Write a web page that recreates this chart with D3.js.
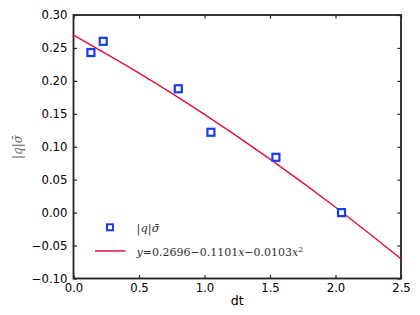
<!DOCTYPE html>
<html>
<head>
<meta charset="utf-8">
<script src="https://cdn.jsdelivr.net/npm/d3@7"></script>
<style>
  body { margin: 0; background: #fff; }
  text { font-family: "DejaVu Sans", sans-serif; }
</style>
</head>
<body>
<div id="chart"></div>
<script>
// measured points
var dtValues = [0.133, 0.227, 0.80, 1.049, 1.545, 2.046];
var qSigma = [0.243, 0.260, 0.188, 0.122, 0.084, 0.0];

// fitted curve
var fitX = [0.0, 0.5, 1.0, 1.5, 2.0, 2.5];
var fitY = [0.2696, 0.2119, 0.1492, 0.0813, 0.0082, -0.0700];

var xTicks = [0.0, 0.5, 1.0, 1.5, 2.0, 2.5];
var yTicks = [-0.10, -0.05, 0.00, 0.05, 0.10, 0.15, 0.20, 0.25, 0.30];

var width = 420, height = 315;
var margin = {left: 73.5, right: 19, top: 15, bottom: 36.5};

var blue = "#1a3cf0";
var red = "#e3123a";

var svg = d3.select("#chart")
  .append("svg")
    .attr("width", width)
    .attr("height", height);

var x = d3.scaleLinear().domain([0, 2.5]).range([margin.left, width - margin.right]);
var y = d3.scaleLinear().domain([-0.10, 0.30]).range([height - margin.bottom, margin.top]);

// axes, ticks point inward
var bottomAxis = d3.axisBottom(x).tickValues(xTicks).tickFormat(d3.format(".1f")).tickSizeInner(-3.5).tickSizeOuter(0).tickPadding(5);
var topAxis = d3.axisTop(x).tickValues(xTicks).tickFormat("").tickSizeInner(-3.5).tickSizeOuter(0);
var leftAxis = d3.axisLeft(y).tickValues(yTicks).tickFormat(function(d){ return d3.format(".2f")(d).replace("-", "\u2212"); }).tickSizeInner(-3.5).tickSizeOuter(0).tickPadding(6);
var rightAxis = d3.axisRight(y).tickValues(yTicks).tickFormat("").tickSizeInner(-3.5).tickSizeOuter(0);

function styleAxis(g) {
  g.select(".domain").remove();
  g.selectAll(".tick line").attr("stroke", "#222").attr("stroke-width", 1.2);
  g.selectAll(".tick text").attr("fill", "#000").style("font-size", "11.7px").style("font-family", "DejaVu Sans");
}

svg.append("g").attr("transform", "translate(0," + (height - margin.bottom) + ")").call(bottomAxis).call(styleAxis);
svg.append("g").attr("transform", "translate(0," + margin.top + ")").call(topAxis).call(styleAxis);
svg.append("g").attr("transform", "translate(" + margin.left + ",0)").call(leftAxis).call(styleAxis);
svg.append("g").attr("transform", "translate(" + (width - margin.right) + ",0)").call(rightAxis).call(styleAxis);

// frame
svg.append("rect")
  .attr("x", margin.left)
  .attr("y", margin.top)
  .attr("width", width - margin.left - margin.right)
  .attr("height", height - margin.top - margin.bottom)
  .attr("fill", "none")
  .attr("stroke", "#222")
  .attr("stroke-width", 1.8);

// fit curve
var fitData = fitX.map(function(v, i){ return {x: v, y: fitY[i]}; });
svg.append("path")
  .datum(fitData)
  .attr("fill", "none")
  .attr("stroke", red)
  .attr("stroke-width", 1.5)
  .attr("d", d3.line()
    .curve(d3.curveNatural)
    .x(function(d){ return x(d.x); })
    .y(function(d){ return y(d.y); }));

// square markers
var pts = dtValues.map(function(v, i){ return {x: v, y: qSigma[i]}; });
svg.selectAll(".pt")
  .data(pts)
  .enter().append("rect")
    .attr("class", "pt")
    .attr("x", function(d){ return x(d.x) - 3.5; })
    .attr("y", function(d){ return y(d.y) - 3.5; })
    .attr("width", 7)
    .attr("height", 7)
    .attr("fill", "#fff")
    .attr("stroke", blue)
    .attr("stroke-width", 2.2);

// axis labels
svg.append("text")
  .text("dt")
  .attr("x", (margin.left + width - margin.right) / 2)
  .attr("y", 305)
  .attr("text-anchor", "middle")
  .style("font-size", "12.5px")
  .attr("fill", "#000");

var ylab = svg.append("text")
  .attr("transform", "translate(22," + 147 + ") rotate(-90)")
  .attr("text-anchor", "middle")
  .style("font-family", "DejaVu Serif")
  .style("font-size", "12px")
  .attr("fill", "#666");
ylab.append("tspan").text("|");
ylab.append("tspan").text("q").style("font-style", "italic");
ylab.append("tspan").text("|");
ylab.append("tspan").text("\u03C3\u0304").style("font-style", "italic");

// legend
var legend = svg.append("g");
legend.append("rect")
  .attr("x", 110 - 3)
  .attr("y", 227.3 - 3)
  .attr("width", 6)
  .attr("height", 6)
  .attr("fill", "#fff")
  .attr("stroke", blue)
  .attr("stroke-width", 2);

var l1 = legend.append("text")
  .attr("x", 136.5)
  .attr("y", 231.5)
  .style("font-family", "DejaVu Serif")
  .style("font-size", "11.5px")
  .attr("fill", "#333");
l1.append("tspan").text("|");
l1.append("tspan").text("q").style("font-style", "italic");
l1.append("tspan").text("|");
l1.append("tspan").text("\u03C3\u0304").style("font-style", "italic");

legend.append("line")
  .attr("x1", 95)
  .attr("x2", 125.5)
  .attr("y1", 251)
  .attr("y2", 251)
  .attr("stroke", red)
  .attr("stroke-width", 1.5);

var l2 = legend.append("text")
  .attr("x", 136.5)
  .attr("y", 255.5)
  .style("font-family", "DejaVu Serif")
  .style("font-size", "11px")
  .attr("fill", "#333");
l2.append("tspan").text("y").style("font-style", "italic");
l2.append("tspan").text("=0.2696\u22120.1101");
l2.append("tspan").text("x").style("font-style", "italic");
l2.append("tspan").text("\u22120.0103");
l2.append("tspan").text("x").style("font-style", "italic");
l2.append("tspan").text("2").attr("dy", -4).style("font-size", "8px");
</script>
</body>
</html>
